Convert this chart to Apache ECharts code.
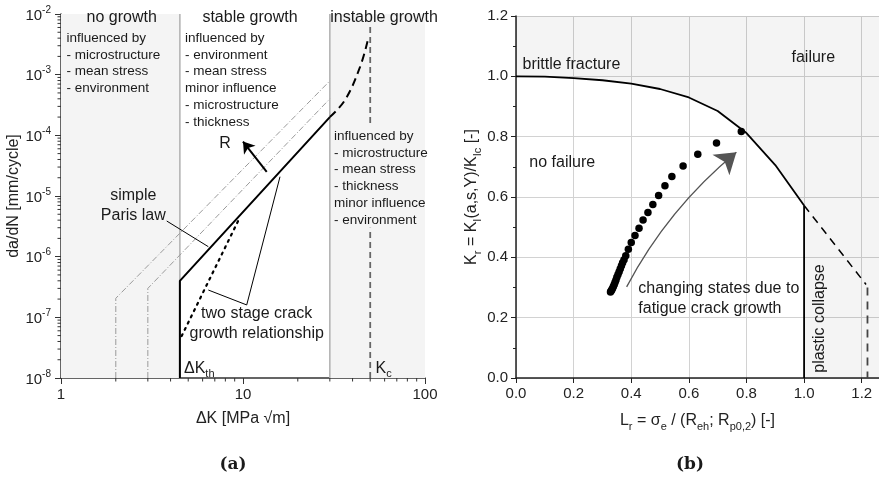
<!DOCTYPE html>
<html><head><meta charset="utf-8">
<script src="https://cdn.jsdelivr.net/npm/echarts@6/dist/echarts.min.js"></script>
<style>html,body{margin:0;padding:0;background:#fff}#c{width:879px;height:479px}</style>
</head><body><div id="c"></div>
<script>
// ================= Panel (a): crack growth rate =================
const aXMin = 1, aXMax = 100, aYMin = 1e-8, aYMax = 1e-2;
const regionNoGrowth = [1, 4.5];
const regionInstable = [30, 100];
const boundaryTh = [[4.5, 1e-8], [4.5, 1e-2]];
const boundaryInst = [[30, 1e-8], [30, 1e-2]];
const kcLineLow = [[50, 1e-8], [50, 3e-6]];
const kcLineHigh = [[50, 1.6e-4], [50, 6.3e-3]];
const parisLaw = [[4.5, 1e-8], [4.5, 4e-7], [30, 2e-4]];
const unstableExt = [[30, 2e-4], [36.3, 3.8e-4], [44, 1.35e-3], [48.8, 4e-3]];
const twoStage = [[4.6, 4.9e-8], [9.6, 4.4e-6]];
const rCurve1 = [[2, 1e-8], [2, 2.06e-7], [30, 7.9e-4]];
const rCurve2 = [[3, 1e-8], [3, 3e-7], [30, 4e-4]];
const rArrow = [[13.5, 2.5e-5], [10.0, 7.9e-5]];
const parisLeader = [[3.81, 3.87e-6], [6.45, 1.46e-6]];
const twoStageLeader = [[6.45, 2.82e-7], [10.48, 1.6e-7], [15.97, 2.08e-5]];
const minorMultipliers = [2, 3, 4, 5, 6, 7, 8, 9];
const xDecadesA = [1, 10];
const yDecadesA = [1e-8, 1e-7, 1e-6, 1e-5, 1e-4, 1e-3];

// ================= Panel (b): failure assessment diagram =================
const bXMin = 0, bXMax = 1.26, bYMin = 0, bYMax = 1.2;
const fadLr = [0, 0.1, 0.2, 0.3, 0.4, 0.5, 0.6, 0.7, 0.8, 0.9, 1.0];
const fadKr = [1.0, 0.999, 0.994, 0.987, 0.976, 0.958, 0.930, 0.885, 0.812, 0.706, 0.572];
const fadDashed = [[1.0, 0.572], [1.215, 0.31]];
const fadDashedVert = [[1.22, 0.30], [1.22, 0]];
const lrMax = [[1.0, 0], [1.0, 0.572]];
const stateLr = [0.782,0.696,0.631,0.580,0.541,0.517,0.495,0.475,0.458,0.441,0.427,0.413,0.400,0.390,0.381,0.375,0.370,0.366,0.362,0.358,0.354,0.350,0.347,0.344,0.341,0.338,0.335,0.332,0.330,0.328];
const stateKr = [0.817,0.779,0.742,0.703,0.668,0.637,0.605,0.575,0.549,0.524,0.496,0.472,0.449,0.427,0.405,0.392,0.382,0.372,0.362,0.352,0.343,0.334,0.325,0.317,0.310,0.303,0.297,0.292,0.288,0.285];
const stateArrow = [[0.384, 0.302], [0.765, 0.748]];

// ---------- helpers ----------
const FONT = '"Liberation Sans", Arial, sans-serif';
const xMinorA = [];
xDecadesA.forEach(d => minorMultipliers.forEach(m => xMinorA.push(d * m)));
const yMinorA = [];
yDecadesA.forEach(d => minorMultipliers.forEach(m => yMinorA.push(d * m)));
const fadCurve = fadLr.map((x, i) => [x, fadKr[i]]);
const states = stateLr.map((x, i) => [x, stateKr[i]]);

function lineS(data, gi, style, extra) {
  return Object.assign({
    type: 'line', xAxisIndex: gi, yAxisIndex: gi, data: data, symbol: 'none',
    silent: true, lineStyle: style, z: 3, animation: false
  }, extra || {});
}
function linesS(coords, gi, style, extra) {
  return Object.assign({
    type: 'lines', coordinateSystem: 'cartesian2d', xAxisIndex: gi, yAxisIndex: gi,
    data: [{ coords: coords }], silent: true,
    lineStyle: Object.assign({ opacity: 1 }, style), z: 4, animation: false
  }, extra || {});
}

const supRich = {
  b: { fontSize: 15, fontFamily: FONT, color: '#222', lineHeight: 18, verticalAlign: 'bottom' },
  s: { fontSize: 10, fontFamily: FONT, color: '#222', lineHeight: 10, verticalAlign: 'top', padding: [0, 0, 10, 0] }
};
const subRich = {
  n: { fontSize: 16, fontFamily: FONT, color: '#222', lineHeight: 20, verticalAlign: 'bottom' },
  sub: { fontSize: 11, fontFamily: FONT, color: '#222', lineHeight: 11, verticalAlign: 'bottom', padding: [0, 0, -3, 0] }
};

function gText(x, y, text, opts) {
  return Object.assign({
    type: 'text', x: x, y: y, silent: true, z: 10,
    style: Object.assign({
      text: text, font: '16px ' + FONT, fill: '#1a1a1a',
      textAlign: 'left', textVerticalAlign: 'middle', align: 'left', verticalAlign: 'middle'
    }, opts || {})
  });
}

function tickSeries(data, horizontal) {
  return {
    type: 'custom', xAxisIndex: 0, yAxisIndex: 0, clip: false, silent: true, z: 6,
    encode: { x: 0, y: 1 },
    data: data,
    renderItem: (params, api) => {
      const p = api.coord([api.value(0), api.value(1)]);
      const shape = horizontal
        ? { x1: p[0] - 3.5, y1: p[1], x2: p[0], y2: p[1] }
        : { x1: p[0], y1: p[1], x2: p[0], y2: p[1] + 3.5 };
      return { type: 'line', shape: shape, style: { stroke: '#333', lineWidth: 1, fill: null } };
    }
  };
}

const chart = echarts.init(document.getElementById('c'), null, { renderer: 'canvas' });

const option = {
  animation: false,
  backgroundColor: '#fff',
  textStyle: { fontFamily: FONT },
  grid: [
    { left: 61, top: 14, width: 364, height: 364 },
    { left: 516, top: 16, width: 366, height: 362 }
  ],
  xAxis: [
    {
      type: 'log', logBase: 10, gridIndex: 0, min: aXMin, max: aXMax,
      name: 'ΔK [MPa √m]', nameLocation: 'middle', nameGap: 33,
      nameTextStyle: { fontSize: 16, color: '#222', fontFamily: FONT },
      axisLine: { lineStyle: { color: '#333', width: 1.5 } },
      axisTick: { show: true, length: 6, lineStyle: { color: '#333' } },
      axisLabel: { fontSize: 15, color: '#222', margin: 9, formatter: v => String(Math.round(v)) },
      splitLine: { show: false }, minorTick: { show: false }
    },
    {
      type: 'value', gridIndex: 1, min: bXMin, max: bXMax, interval: 0.2,
      name: '{n|L}{sub|r}{n| = σ}{sub|e}{n| / (R}{sub|eh}{n|; R}{sub|p0,2}{n|) [-]}',
      nameLocation: 'middle', nameGap: 31,
      nameTextStyle: { rich: subRich },
      axisLine: { onZero: false, lineStyle: { color: '#222', width: 1.5 } },
      axisTick: { show: true, length: 5, lineStyle: { color: '#222' } },
      axisLabel: {
        fontSize: 15, color: '#222', margin: 8, showMaxLabel: false,
        formatter: v => (Math.abs(v / 0.2 - Math.round(v / 0.2)) < 1e-6 ? v.toFixed(1) : '')
      },
      splitLine: { show: true, lineStyle: { color: '#d2d2d2', width: 1 } }
    }
  ],
  yAxis: [
    {
      type: 'log', logBase: 10, gridIndex: 0, min: aYMin, max: aYMax,
      name: 'da/dN [mm/cycle]', nameLocation: 'middle', nameGap: 36,
      nameTextStyle: { fontSize: 16, color: '#222', fontFamily: FONT },
      axisLine: { lineStyle: { color: '#333', width: 1.5 } },
      axisTick: { show: true, length: 6, lineStyle: { color: '#333' } },
      axisLabel: {
        margin: 10, rich: supRich,
        formatter: v => '{b|10}{s|' + Math.round(Math.log10(v)) + '}'
      },
      splitLine: { show: false }, minorTick: { show: false }
    },
    {
      type: 'value', gridIndex: 1, min: bYMin, max: bYMax, interval: 0.2,
      name: '{n|K}{sub|r}{n| = K}{sub|I}{n|(a,s,Y)/K}{sub|Ic}{n| [-]}',
      nameLocation: 'middle', nameGap: 36,
      nameTextStyle: { rich: subRich },
      axisLine: { onZero: false, lineStyle: { color: '#222', width: 1.5 } },
      axisTick: { show: true, length: 5, lineStyle: { color: '#222' } },
      minorTick: { show: true, splitNumber: 2, length: 3, lineStyle: { color: '#222' } },
      axisLabel: { fontSize: 15, color: '#222', margin: 8, formatter: v => v.toFixed(1) },
      splitLine: { show: true, lineStyle: { color: '#d2d2d2', width: 1 } }
    }
  ],
  series: [
    // ---- panel (a) ----
    lineS(boundaryTh, 0, { color: '#b0b0b0', width: 1.5 }, {
      z: 2,
      markArea: {
        silent: true, itemStyle: { color: '#f4f4f4' },
        data: [
          [{ xAxis: regionNoGrowth[0], yAxis: aYMin }, { xAxis: regionNoGrowth[1], yAxis: aYMax }],
          [{ xAxis: regionInstable[0], yAxis: aYMin }, { xAxis: regionInstable[1], yAxis: aYMax }]
        ]
      }
    }),
    lineS(boundaryInst, 0, { color: '#b0b0b0', width: 1.5 }, { z: 2 }),
    lineS(kcLineLow, 0, { color: '#666', width: 1.8, type: [6, 4] }, { z: 2 }),
    lineS(kcLineHigh, 0, { color: '#666', width: 1.8, type: [6, 4] }, { z: 2 }),
    lineS(rCurve1, 0, { color: '#9a9a9a', width: 1, type: [6, 2, 1, 2] }),
    lineS(rCurve2, 0, { color: '#9a9a9a', width: 1, type: [6, 2, 1, 2] }),
    lineS(parisLaw, 0, { color: '#000', width: 2 }),
    lineS(unstableExt, 0, { color: '#000', width: 2, type: [8, 5] }, { smooth: 0.4 }),
    lineS(twoStage, 0, { color: '#000', width: 2.2, type: [2, 5], cap: 'round' }),
    linesS(rArrow, 0, { color: '#000', width: 2 }, { symbol: ['none', 'arrow'], symbolSize: 11 }),
    linesS(parisLeader, 0, { color: '#000', width: 1 }, { symbol: 'none' }),
    linesS(twoStageLeader, 0, { color: '#000', width: 1 }, { symbol: 'none', polyline: true }),
    tickSeries(xMinorA.map(v => [v, aYMin]), false),
    tickSeries(yMinorA.map(v => [aXMin, v]), true),
    // ---- panel (b) ----
    {
      type: 'custom', xAxisIndex: 1, yAxisIndex: 1, clip: true, silent: true, z: 1,
      encode: { x: 0, y: 1 },
      data: [[0, 0]],
      renderItem: (params, api) => {
        const pts = [api.coord([bXMin, bYMax])];
        fadCurve.forEach(d => pts.push(api.coord(d)));
        pts.push(api.coord([fadLr[fadLr.length - 1], bYMin]));
        pts.push(api.coord([bXMax, bYMin]));
        pts.push(api.coord([bXMax, bYMax]));
        return { type: 'polygon', shape: { points: pts }, style: { fill: 'rgba(0,0,0,0.042)' } };
      }
    },
    lineS(fadCurve, 1, { color: '#000', width: 1.8 }),
    lineS(fadDashed, 1, { color: '#000', width: 1.5, type: [8, 6] }),
    lineS(fadDashedVert, 1, { color: '#444', width: 1.8, type: [8, 6] }),
    lineS(lrMax, 1, { color: '#000', width: 1.8 }),
    {
      type: 'scatter', xAxisIndex: 1, yAxisIndex: 1, data: states, symbolSize: 7.5,
      itemStyle: { color: '#000', opacity: 1 }, silent: true, z: 5
    },
    linesS(stateArrow, 1, { color: '#555', width: 1.3, curveness: 0.1 }, { symbol: ['none', 'arrow'], symbolSize: 20 })
  ],
  graphic: [
    // panel (a) headings and notes
    gText(121.7, 18, 'no growth', { textAlign: 'center', align: 'center' }),
    gText(250, 18, 'stable growth', { textAlign: 'center', align: 'center' }),
    gText(384, 18, 'instable growth', { textAlign: 'center', align: 'center' }),
    gText(66.5, 30, 'influenced by\n- microstructure\n- mean stress\n- environment',
      { font: '13.5px ' + FONT, lineHeight: 16.7, textVerticalAlign: 'top', verticalAlign: 'top' }),
    gText(185, 30, 'influenced by\n- environment\n- mean stress\nminor influence\n- microstructure\n- thickness',
      { font: '13.5px ' + FONT, lineHeight: 16.7, textVerticalAlign: 'top', verticalAlign: 'top' }),
    gText(334, 128, 'influenced by\n- microstructure\n- mean stress\n- thickness\nminor influence\n- environment',
      { font: '13.5px ' + FONT, lineHeight: 16.7, textVerticalAlign: 'top', verticalAlign: 'top' }),
    gText(133.3, 196, 'simple', { textAlign: 'center', align: 'center' }),
    gText(133.3, 216, 'Paris law', { textAlign: 'center', align: 'center' }),
    gText(225, 144, 'R', { textAlign: 'center', align: 'center' }),
    gText(256.7, 313.5, 'two stage crack', { textAlign: 'center', align: 'center' }),
    gText(256.7, 334, 'growth relationship', { textAlign: 'center', align: 'center' }),
    gText(184, 366.5, '{n|ΔK}{sub|th}', { rich: subRich }),
    gText(375.5, 366.5, '{n|K}{sub|c}', { rich: subRich }),
    // panel (b) notes
    gText(522.5, 65, 'brittle fracture'),
    gText(813.3, 57.5, 'failure', { textAlign: 'center', align: 'center' }),
    gText(529.3, 162.5, 'no failure'),
    gText(638.3, 288.5, 'changing states due to'),
    gText(638.3, 308.5, 'fatigue crack growth'),
    {
      type: 'text', x: 820, y: 318.5, rotation: Math.PI / 2, silent: true, z: 10,
      style: { text: 'plastic collapse', font: '16px ' + FONT, fill: '#1a1a1a',
        textAlign: 'center', textVerticalAlign: 'middle', align: 'center', verticalAlign: 'middle' }
    },
    // captions
    gText(233, 465, '(a)', { font: 'bold 17px "DejaVu Serif", "Liberation Serif", serif', textAlign: 'center', align: 'center' }),
    gText(690, 465, '(b)', { font: 'bold 17px "DejaVu Serif", "Liberation Serif", serif', textAlign: 'center', align: 'center' })
  ]
};
chart.setOption(option);
</script>
</body></html>
